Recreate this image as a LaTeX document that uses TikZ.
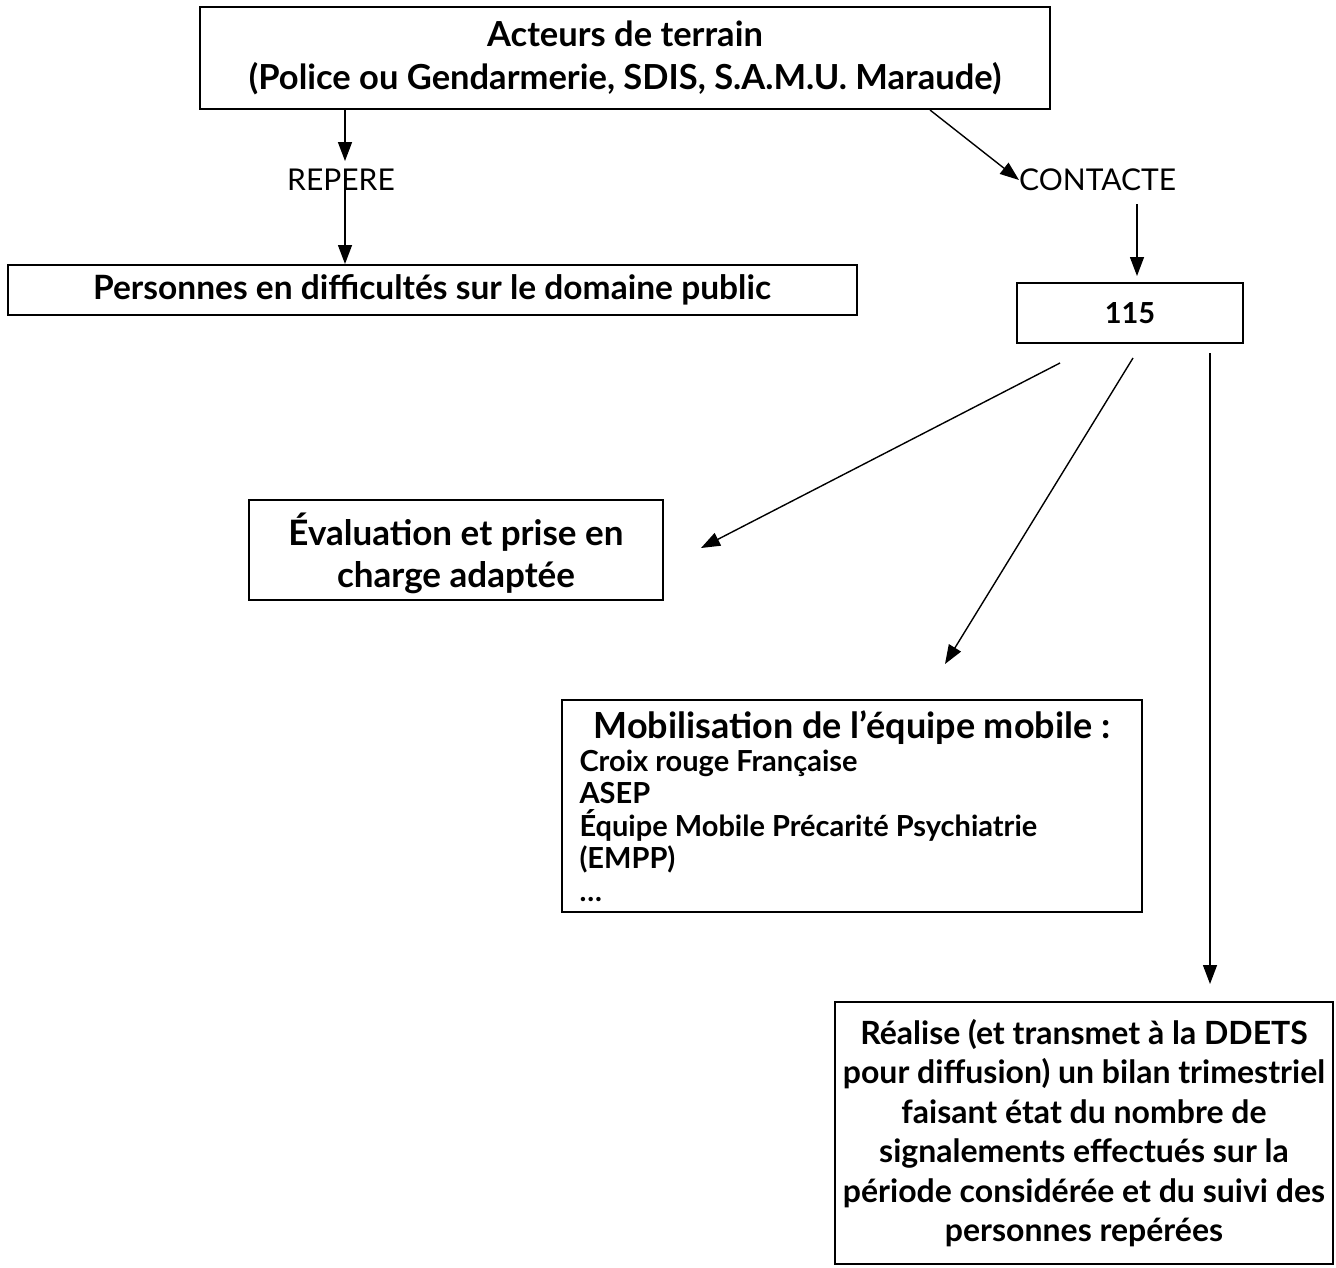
\documentclass[tikz,border=0pt]{standalone}
\usepackage{fontspec}
\setmainfont{Lato}
\usetikzlibrary{arrows.meta, positioning}

\begin{document}
\begin{tikzpicture}[
    x=1pt, y=-1pt,
    box/.style={draw, line width=2pt, inner sep=0pt, align=center, font=\bfseries},
    lbl/.style={inner sep=0pt, font=\fontsize{30}{34}\selectfont},
    arr/.style={line width=1.4pt, -{Triangle[length=19pt, width=14pt]}},
    ]
    \useasboundingbox (0,0) rectangle (1336,1267);
    \node (actors) [box, minimum width=850pt, minimum height=102pt,
      font=\fontsize{34.5}{43}\selectfont\bfseries] at (625,58)
      {Acteurs de terrain\\(Police ou Gendarmerie, SDIS, S.A.M.U. Maraude)};
    \node (repere) [lbl] at (341,180) {REPERE};
    \node (personnes) [box, minimum width=849pt, minimum height=50pt,
      font=\fontsize{33.5}{38}\selectfont\bfseries] at (432,290)
      {Personnes en difficultés sur le domaine public};
    \node (contacte) [lbl, anchor=west] at (1019,180) {CONTACTE};
    \node (num) [box, minimum width=226pt, minimum height=60pt,
      font=\fontsize{29}{34}\selectfont\bfseries] at (1130,313) {115};
    \node (evaluation) [box, minimum width=414pt, minimum height=100pt, text depth=0pt,
      font=\fontsize{35}{42}\selectfont\bfseries] at (456,550)
      {Évaluation et prise en\\charge adaptée};
    \node (mobile) [box, minimum width=580pt, minimum height=212pt] at (852,806)
      {\parbox{545pt}{\centering\fontsize{36}{34}\selectfont\bfseries
        Mobilisation de l’équipe mobile~:\par
        \raggedright\fontsize{29}{32.5}\selectfont
        Croix rouge Française\\ASEP\\Équipe Mobile Précarité Psychiatrie\\(EMPP)\\…}};
    \node (bilan) [box, minimum width=498pt, minimum height=262pt,
      font=\fontsize{32}{39.5}\selectfont\bfseries] at (1084,1133)
      {Réalise (et transmet à la DDETS\\pour diffusion) un bilan trimestriel\\faisant état du nombre de\\signalements effectués sur la\\période considérée et du suivi des\\personnes repérées};
    \draw[arr] ([xshift=4pt]actors.south -| repere.north) -- ([shift={(4,-8)}]repere.north);
    \draw[arr] ([xshift=4pt]repere.north) -- ([xshift=4pt]repere.north |- personnes.north);
    \draw[arr] ([xshift=305pt]actors.south) -- (contacte.west);
    \draw[arr] ([xshift=7pt, yshift=78pt]num.north) -- ([xshift=7pt, yshift=6pt]num.north);
    \draw[arr] ([shift={(-70,19)}]num.south) -- ([shift={(37,-2)}]evaluation.east);
    \draw[arr] ([shift={(3,14)}]num.south) -- ([shift={(93,-35)}]mobile.north);
    \draw[arr] ([shift={(80,9)}]num.south) -- ([shift={(126,-17)}]bilan.north);
\end{tikzpicture}
\end{document}
